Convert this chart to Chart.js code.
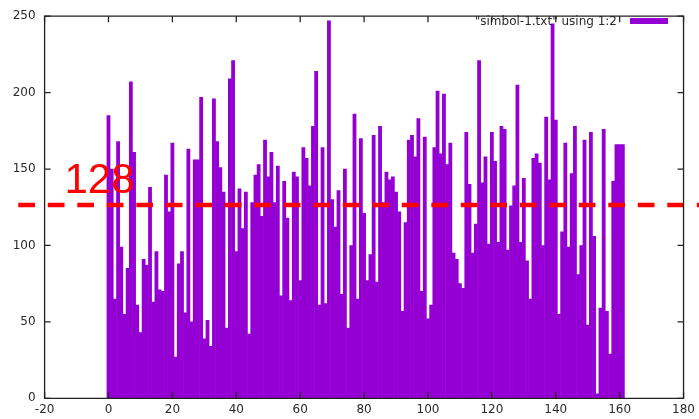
<!DOCTYPE html>
<html><head><meta charset="utf-8">
<style>html,body{margin:0;padding:0;background:#fff}canvas{display:block}</style>
<script src="https://cdn.jsdelivr.net/npm/chart.js@4.4.1/dist/chart.umd.min.js"></script>
</head><body>
<canvas id="c" width="699" height="419"></canvas>
<script>
const seriesLabel = '"simbol-1.txt" using 1:2';
const values = [
185,150,65,168,99,55,85,207,161,61,43,91,87,138,63,96,71,70,146,122,
167,27,88,96,56,163,50,156,156,197,39,51,34,196,168,151,135,46,209,221,
96,137,111,135,42,128,146,153,119,169,145,161,128,152,67,142,118,64,148,145,
77,164,157,139,178,214,61,164,62,247,130,112,136,68,150,46,100,186,65,170,
121,77,94,172,76,178,128,148,143,145,135,122,57,115,169,172,158,183,70,171,
52,61,164,201,160,199,153,167,95,91,75,72,174,140,95,114,221,141,158,101,
174,155,102,178,176,97,126,139,205,102,144,90,65,157,160,154,100,184,143,245,
182,55,109,167,99,147,178,81,100,169,48,174,106,3,59,176,57,29,142,166,166,166
];
const xTicks = [-20,0,20,40,60,80,100,120,140,160,180];
const yTicks = [0,50,100,150,200,250];
const thresholdValue = 126.5;
const thresholdLabel = '128';

const TICK_FONT = {family:'DejaVu Sans', size:12};
const TICK_COLOR = '#2a2a2a';

const decor = {
  id:'decor',
  afterDatasetsDraw(chart){
    const {ctx, chartArea:a, scales:{x,y}} = chart;
    ctx.save();
    const yp = y.getPixelForValue(thresholdValue);
    ctx.strokeStyle = '#ff0000';
    ctx.lineWidth = 4.5;
    ctx.setLineDash([16.7,12.8]);
    ctx.beginPath();
    ctx.moveTo(18.3, yp);
    ctx.lineTo(699, yp);
    ctx.stroke();
    ctx.setLineDash([]);
    ctx.fillStyle = '#ff0000';
    ctx.font = '42px "Liberation Sans"';
    ctx.textAlign = 'left';
    ctx.textBaseline = 'alphabetic';
    ctx.fillText(thresholdLabel, 64.5, 193.3);
    ctx.fillStyle = '#2a2a2a';
    ctx.font = '12px "DejaVu Sans"';
    ctx.textAlign = 'right';
    ctx.textBaseline = 'middle';
    ctx.fillText(seriesLabel, 617, 21.5);
    ctx.fillStyle = '#9400d3';
    ctx.fillRect(630, 18, 38, 6);
    ctx.restore();
  },
  afterDraw(chart){
    const {ctx, chartArea:a, scales:{x,y}} = chart;
    ctx.save();
    ctx.strokeStyle = '#222';
    ctx.lineWidth = 1.3;
    ctx.beginPath();
    ctx.rect(a.left, a.top, a.right-a.left, a.bottom-a.top);
    ctx.stroke();
    const tl = 6;
    ctx.beginPath();
    xTicks.forEach(v=>{
      const px = x.getPixelForValue(v);
      ctx.moveTo(px, a.bottom); ctx.lineTo(px, a.bottom-tl);
      ctx.moveTo(px, a.top); ctx.lineTo(px, a.top+tl);
    });
    yTicks.forEach(v=>{
      const py = y.getPixelForValue(v);
      ctx.moveTo(a.left, py); ctx.lineTo(a.left+tl, py);
      ctx.moveTo(a.right, py); ctx.lineTo(a.right-tl, py);
    });
    ctx.stroke();
    ctx.restore();
  }
};

new Chart(document.getElementById('c'), {
  type:'bar',
  data:{
    datasets:[{
      label: seriesLabel,
      data: values.map((v,i)=>({x:i, y:v})),
      backgroundColor:'#9400d3',
      borderWidth:0,
      inflateAmount:0.3,
      barPercentage:1,
      categoryPercentage:1,
      grouped:false
    }]
  },
  options:{
    responsive:false,
    animation:false,
    devicePixelRatio:1,
    layout:{padding:{top:10,right:14.4,left:0,bottom:0}},
    plugins:{legend:{display:false}, tooltip:{enabled:false}},
    scales:{
      x:{
        type:'linear', min:-20, max:180, offset:false,
        grid:{display:false, drawTicks:false},
        border:{display:false},
        ticks:{stepSize:20, font:TICK_FONT, color:TICK_COLOR, padding:4, maxRotation:0, autoSkip:false,
          callback:(v)=> xTicks.includes(v) ? String(v) : ''},
        afterFit(s){ s.height = 20.7; }
      },
      y:{
        min:0, max:250,
        grid:{display:false, drawTicks:false},
        border:{display:false},
        ticks:{stepSize:50, font:TICK_FONT, color:TICK_COLOR, padding:9,
          callback:(v)=> yTicks.includes(v) ? String(v) : ''},
        afterFit(s){ s.width = 44.6; }
      }
    }
  },
  plugins:[decor]
});
</script>
</body></html>
